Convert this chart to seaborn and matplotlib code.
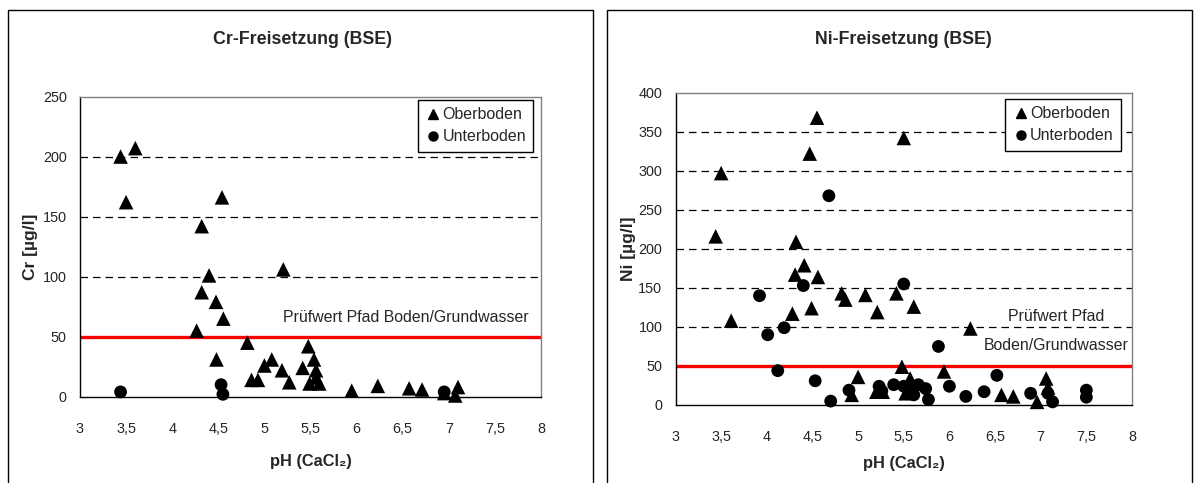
import matplotlib
matplotlib.use('Agg')
import pandas as pd
import matplotlib.pyplot as plt
import seaborn as sns
from matplotlib.patches import Rectangle
from matplotlib.lines import Line2D

# Cr-Freisetzung (BSE)
cr_ober_ph = [3.44, 3.60, 3.50, 4.54, 4.32, 4.40, 4.32, 4.475, 4.555, 4.265, 5.205, 4.815,
              4.48, 4.86, 4.93, 5.00, 5.08, 5.19, 5.27, 5.415, 5.476, 5.538, 5.56, 5.49,
              5.595, 5.56, 5.947, 6.23, 6.57, 6.71, 7.07, 7.10, 6.95]
cr_ober_val = [200, 207, 162, 166, 142, 101, 87, 79, 65, 55, 106, 45,
               31, 14, 14, 26, 31, 22, 12, 24, 42, 31, 22, 11,
               11, 16, 5, 9, 7, 6, 1, 8, 3]
cr_unter_ph = [3.44, 4.53, 4.55, 6.95]
cr_unter_val = [4, 10, 2, 4]

# Ni-Freisetzung (BSE)
ni_ober_ph = [4.55, 5.50, 4.47, 3.50, 3.44, 4.32, 4.41, 4.31, 4.56, 4.82, 4.86, 5.08,
              5.42, 5.61, 5.21, 4.49, 4.28, 3.61, 6.23, 5.48, 5.94, 5.00, 5.57, 4.93,
              5.20, 5.27, 5.52, 6.57, 6.70, 6.96, 7.06, 7.08]
ni_ober_val = [368, 342, 322, 297, 216, 209, 179, 167, 164, 143, 135, 141,
               143, 126, 119, 124, 117, 108, 98, 49, 43, 36, 34, 13,
               17, 17, 15, 13, 11, 4, 34, 22]
ni_unter_ph = [4.68, 5.50, 4.40, 3.92, 4.19, 4.01, 5.88, 4.12, 4.53, 4.70, 4.90, 5.23,
               5.26, 5.39, 5.50, 5.57, 5.61, 5.66, 5.74, 5.77, 6.00, 6.18, 6.38, 6.52,
               6.89, 7.08, 7.13, 7.50, 7.50]
ni_unter_val = [268, 155, 153, 140, 99, 90, 75, 44, 31, 5, 19, 24,
                18, 26, 24, 21, 13, 26, 21, 7, 24, 11, 17, 38,
                15, 15, 4, 19, 10]

ph_ticks = [3, 3.5, 4, 4.5, 5, 5.5, 6, 6.5, 7, 7.5, 8]
ph_labels = ['3', '3,5', '4', '4,5', '5', '5,5', '6', '6,5', '7', '7,5', '8']
cr_ticks = [0, 50, 100, 150, 200, 250]
ni_ticks = [0, 50, 100, 150, 200, 250, 300, 350, 400]
pruefwert = 50

sns.set_style('white')
plt.rcParams['font.family'] = ['Liberation Sans', 'DejaVu Sans']

W, H = 1195, 483
fig = plt.figure(figsize=(W / 100, H / 100), dpi=100)


def draw_panel(ax, ober_x, ober_y, unter_x, unter_y, yticks, ylabel, xlab_y, ylab_x, leg_anchor):
    df_o = pd.DataFrame({'pH': ober_x, 'Wert': ober_y})
    df_u = pd.DataFrame({'pH': unter_x, 'Wert': unter_y})
    sns.scatterplot(data=df_o, x='pH', y='Wert', marker='^', s=110, color='black',
                    edgecolor='none', ax=ax, zorder=3, clip_on=False)
    sns.scatterplot(data=df_u, x='pH', y='Wert', marker='o', s=85, color='black',
                    edgecolor='none', ax=ax, zorder=3, clip_on=False)
    ax.axhline(pruefwert, color='#ff0000', lw=2.4, zorder=2)
    for y in yticks[1:-1]:
        ax.axhline(y, color='black', lw=0.9, ls=(0, (6, 4)), zorder=1)
    ax.set_xlim(3, 8)
    ax.set_ylim(yticks[0], yticks[-1])
    ax.set_xticks(ph_ticks)
    ax.set_xticklabels(ph_labels)
    ax.set_yticks(yticks)
    ax.tick_params(axis='x', direction='out', length=5, width=1, pad=13, labelsize=10.4, color='black')
    ax.tick_params(axis='y', direction='inout', length=9, width=1, pad=5, labelsize=10.4, color='black')
    for s in ['top', 'right']:
        ax.spines[s].set_color('#808080')
        ax.spines[s].set_linewidth(1)
    for s in ['left', 'bottom']:
        ax.spines[s].set_color('black')
        ax.spines[s].set_linewidth(1)
    ax.set_xlabel('pH (CaCl₂)', fontsize=11.8, fontweight='bold', va='center')
    ax.set_ylabel(ylabel, fontsize=12.5, fontweight='bold', va='center')
    ax.xaxis.set_label_coords(0.5, xlab_y)
    ax.yaxis.set_label_coords(ylab_x, 0.5)
    handles = [Line2D([], [], marker='^', ls='none', color='black', markersize=7, label='Oberboden'),
               Line2D([], [], marker='o', ls='none', color='black', markersize=6.5, label='Unterboden')]
    leg = ax.legend(handles=handles, loc='upper right', bbox_to_anchor=leg_anchor,
                    frameon=True, fancybox=False, edgecolor='black', framealpha=1,
                    borderaxespad=0, handletextpad=0.1, handlelength=1.0,
                    labelspacing=0.45, fontsize=11.5, borderpad=0.45)
    leg.get_frame().set_linewidth(1)
    leg.set_zorder(5)


# left panel
ax1 = fig.add_axes([80 / W, (H - 396.7) / H, 461 / W, 300.2 / H])
draw_panel(ax1, cr_ober_ph, cr_ober_val, cr_unter_ph, cr_unter_val, cr_ticks,
           'Cr [µg/l]', -0.2165, -0.107, (0.983, 0.988))
ax1.text(7.87, 66, 'Prüfwert Pfad Boden/Grundwasser', ha='right', va='center', fontsize=11.4)

# right panel
ax2 = fig.add_axes([675.5 / W, (H - 405) / H, 456.5 / W, 312.3 / H])
draw_panel(ax2, ni_ober_ph, ni_ober_val, ni_unter_ph, ni_unter_val, ni_ticks,
           'Ni [µg/l]', -0.187, -0.103, (0.976, 0.98))
ax2.text(7.17, 113, 'Prüfwert Pfad', ha='center', va='center', fontsize=11.4)
ax2.text(7.17, 76, 'Boden/Grundwasser', ha='center', va='center', fontsize=11.4)

# titles and chart borders
fig.text(303 / W, 1 - 40 / H, 'Cr-Freisetzung (BSE)', ha='center', va='center',
         fontsize=12.8, fontweight='bold')
fig.text(903 / W, 1 - 40 / H, 'Ni-Freisetzung (BSE)', ha='center', va='center',
         fontsize=12.8, fontweight='bold')
for x0, x1 in [(8, 593), (607, 1192)]:
    fig.add_artist(Rectangle((x0 / W, -0.05), (x1 - x0) / W, (H - 9.5) / H + 0.05,
                             transform=fig.transFigure, fill=False, ec='black', lw=1))

fig.savefig('out.png', dpi=100)
